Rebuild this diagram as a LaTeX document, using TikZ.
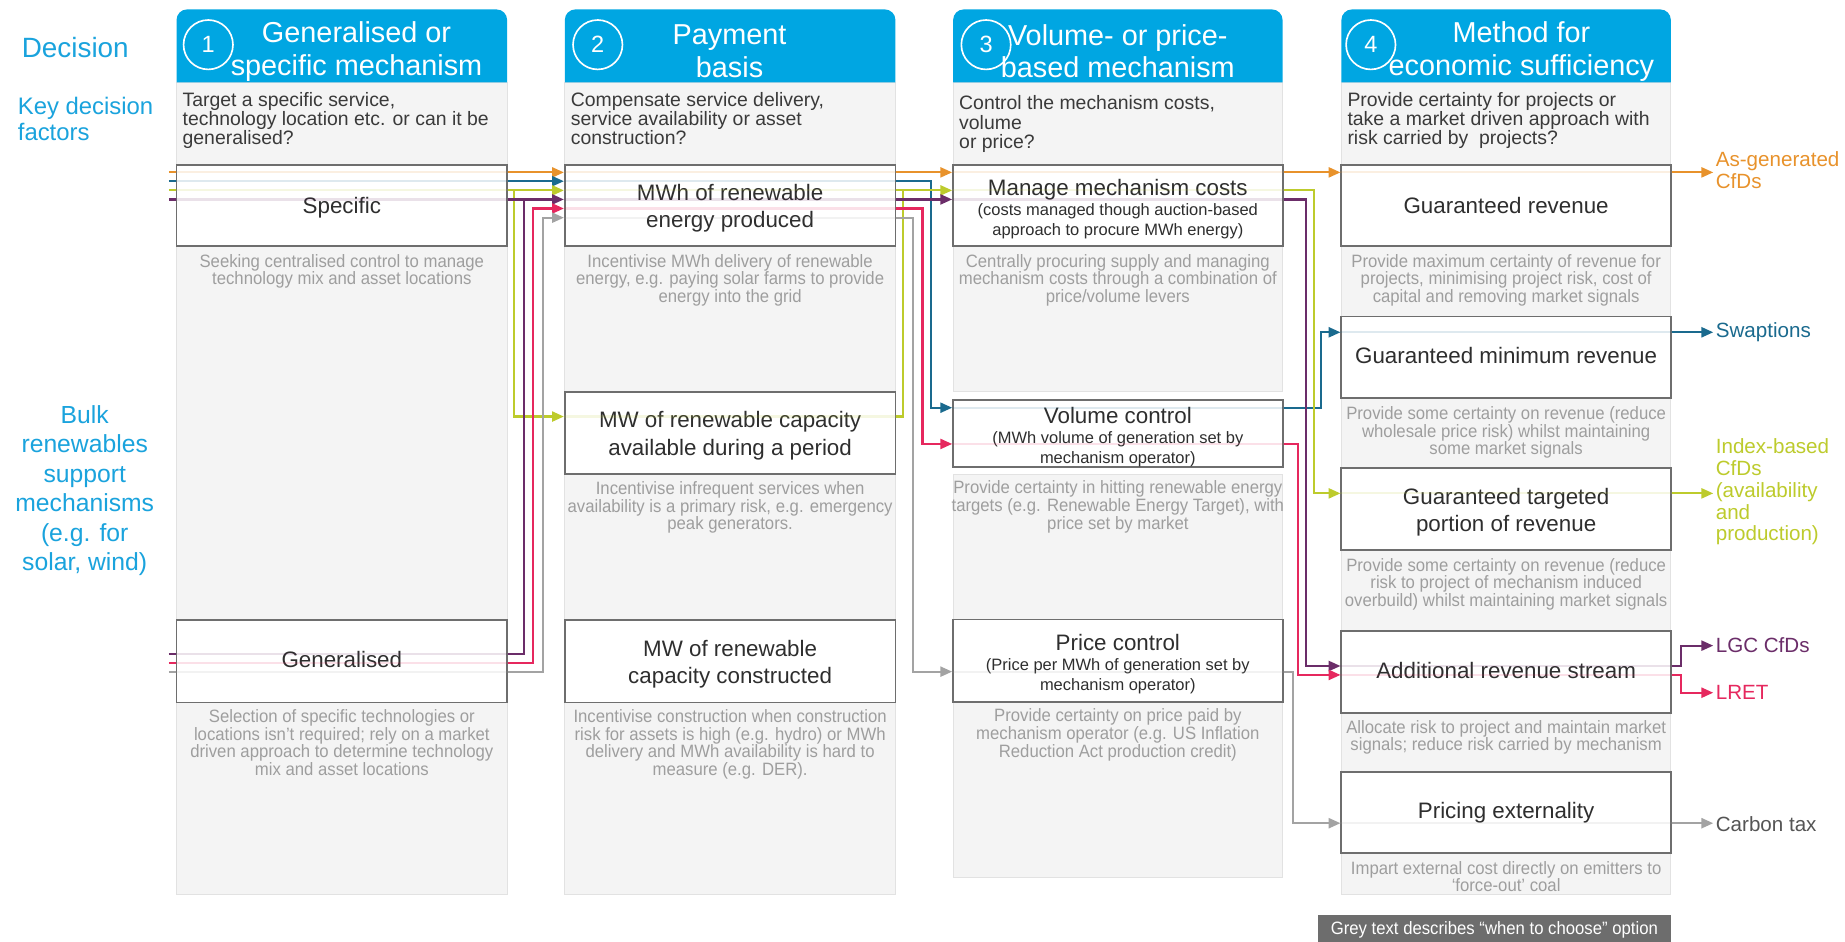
\documentclass[tikz,border=0pt]{standalone}
\usepackage{fontspec}
\setmainfont{Liberation Sans}
\newfontfamily\greyfont[FakeStretch=0.935]{Liberation Sans}
\usetikzlibrary{arrows.meta,positioning}

\definecolor{hdrblue}{HTML}{00A6E2}
\definecolor{lblblue}{HTML}{1AA3DD}
\definecolor{colbg}{HTML}{F4F4F4}
\definecolor{colline}{HTML}{E2E2E2}
\definecolor{boxline}{HTML}{6E6E6E}
\definecolor{textdark}{HTML}{2E2E2E}
\definecolor{qtext}{HTML}{3A3A3A}
\definecolor{greytext}{HTML}{9E9E9E}
\definecolor{legendgrey}{HTML}{6D6D6D}
\definecolor{cO}{HTML}{E8922B}
\definecolor{cB}{HTML}{1A6A8E}
\definecolor{cY}{HTML}{BDCB2C}
\definecolor{cP}{HTML}{6B2D69}
\definecolor{cK}{HTML}{E6285E}
\definecolor{cG}{HTML}{A3A3A3}
\definecolor{taxtext}{HTML}{555555}

\begin{document}
\begin{tikzpicture}[x=1pt,y=-1pt,
  colpanel/.style={fill=colbg, draw=colline, line width=0.7pt},
  hdrtext/.style={align=center, text=white, font=\fontsize{24.5}{28}\selectfont, inner sep=0pt},
  numcirc/.style={circle, draw=white, line width=1.4pt, minimum size=42pt, inner sep=0pt,
    text=white, font=\fontsize{20}{20}\selectfont},
  question/.style={align=left, text=qtext, font=\fontsize{16.5}{16.5}\selectfont, inner sep=0pt, anchor=north west},
  optbox/.style={draw=boxline, line width=1.6pt, fill=white, minimum width=280pt, minimum height=69pt, inner sep=0pt},
  boxtxt/.style={align=center, text=textdark, font=\fontsize{19}{23.5}\selectfont, inner sep=0pt, yshift=-2.5pt},
  boxone/.style={text=textdark, font=\fontsize{19}{23.5}\selectfont, inner sep=0pt, text height=15pt, text depth=4pt},
  boxsub/.style={boxtxt, font=\fontsize{14}{17}\selectfont, yshift=-0.5pt},
  desc/.style={align=center, text=greytext, font=\greyfont\fontsize{15.2}{15}\selectfont, inner sep=0pt, anchor=north},
  sidelbl/.style={text=lblblue, inner sep=0pt},
  outlbl/.style={align=left, inner sep=0pt, anchor=west, font=\fontsize{17.5}{18.8}\selectfont},
  conn/.style={line width=1.8pt},
  tip/.style={-{Triangle[length=10pt,width=8.5pt]}},
  faint/.style={line width=1.8pt, opacity=0.14}
]
\useasboundingbox (0,0) rectangle (1568,800);
\fill[white] (0,0) rectangle (1568,800);

% ---- column panels ----
\draw[colpanel] (150,70) rectangle (431,760);
\draw[colpanel] (480,70) rectangle (761,760);
\draw[colpanel] (810,70) rectangle (1090,333);
\draw[colpanel] (810,403) rectangle (1090,746);
\draw[colpanel] (1140,70) rectangle (1420,760);

% ---- headers ----
\fill[hdrblue] (150,70) {[rounded corners=9pt] -- (150,8) -- (431,8)} -- (431,70) -- cycle;
\fill[hdrblue] (480,70) {[rounded corners=9pt] -- (480,8) -- (761,8)} -- (761,70) -- cycle;
\fill[hdrblue] (810,70) {[rounded corners=9pt] -- (810,8) -- (1090,8)} -- (1090,70) -- cycle;
\fill[hdrblue] (1140,70) {[rounded corners=9pt] -- (1140,8) -- (1420,8)} -- (1420,70) -- cycle;

\node[numcirc] (n1) at (177,38) {1};
\node[numcirc] (n2) at (508,38) {2};
\node[numcirc] (n3) at (838,38) {3};
\node[numcirc] (n4) at (1165,38) {4};
\node[hdrtext] (h1) at (303,43.5) {Generalised or\\specific mechanism};
\node[hdrtext] (h2) at (620,43.5) {Payment\\basis};
\node[hdrtext] (h3) at (950,43.5) {Volume- or price-\\based mechanism};
\node[hdrtext] (h4) at (1293,43.5) {Method for\\economic sufficiency};

% ---- key decision factors ----
\node[question] (q1) at (155,78) {Target a specific service,\\technology location etc. or can it be\\generalised?};
\node[question] (q2) at (485,78) {Compensate service delivery,\\service availability or asset\\construction?};
\node[question] (q3) at (815,81) {Control the mechanism costs,\\volume\\or price?};
\node[question] (q4) at (1145,78) {Provide certainty for projects or\\take a market driven approach with\\risk carried by\ \ projects?};

% ---- side labels ----
\node[sidelbl, font=\fontsize{23.7}{26}\selectfont] (lblDec) at (64,40) {Decision};
\node[sidelbl, align=left, anchor=west, font=\fontsize{20.3}{22}\selectfont] (lblKey) at (15,101) {Key decision\\factors};
\node[sidelbl, align=center, font=\fontsize{21}{25}\selectfont] (lblBulk) at (72,417) {Bulk\\renewables\\support\\mechanisms\\(e.g. for\\solar, wind)};

% ---- option boxes ----
\node[optbox, minimum width=281pt, label={[boxone, yshift=-1.5pt]center:Specific}] (spec) at (290.5,174.5) {};
\node[optbox, minimum width=281pt, minimum height=70pt, label={[boxone]center:Generalised}] (gen) at (290.5,562) {};
\node[optbox, minimum width=281pt, label={[boxtxt]center:{MWh of renewable\\energy produced}}] (mwh) at (620.5,174.5) {};
\node[optbox, minimum width=281pt, minimum height=69.4pt,
  label={[boxtxt]center:{MW of renewable capacity\\available during a period}}] (mwa) at (620.5,368) {};
\node[optbox, minimum width=281pt, minimum height=70pt,
  label={[boxtxt]center:{MW of renewable\\capacity constructed}}] (mwc) at (620.5,562) {};
\node[optbox, label={[boxsub]center:{{\fontsize{19}{20}\selectfont Manage mechanism costs}\\(costs managed though auction-based\\approach to procure MWh energy)}}] (mng) at (950,174.5) {};
\node[optbox, minimum height=56.6pt, label={[boxsub]center:{{\fontsize{19}{20}\selectfont Volume control}\\(MWh volume of generation set by\\mechanism operator)}}] (vol) at (950,368.3) {};
\node[optbox, minimum height=70pt, label={[boxsub]center:{{\fontsize{19}{20}\selectfont Price control}\\(Price per MWh of generation set by\\mechanism operator)}}] (prc) at (950,561.5) {};
\node[optbox, label={[boxone, yshift=-1.5pt]center:Guaranteed revenue}] (grev) at (1280,174.5) {};
\node[optbox, label={[boxone]center:Guaranteed minimum revenue}] (gmin) at (1280,303.5) {};
\node[optbox, minimum height=69.4pt, label={[boxtxt]center:{Guaranteed targeted\\portion of revenue}}] (gtar) at (1280,432.7) {};
\node[optbox, minimum height=70pt, label={[boxone]center:Additional revenue stream}] (arev) at (1280,571) {};
\node[optbox, label={[boxone]center:Pricing externality}] (pext) at (1280,690.5) {};

% ---- when-to-choose notes ----
\node[desc, below=6pt of spec] (dspec) {Seeking centralised control to manage\\technology mix and asset locations};
\node[desc, below=5pt of gen] (dgen) {Selection of specific technologies or\\locations isn’t required; rely on a market\\driven approach to determine technology\\mix and asset locations};
\node[desc, below=6pt of mwh] (dmwh) {Incentivise MWh delivery of renewable\\energy, e.g. paying solar farms to provide\\energy into the grid};
\node[desc, below=5.5pt of mwa] (dmwa) {Incentivise infrequent services when\\availability is a primary risk, e.g. emergency\\peak generators.};
\node[desc, below=5pt of mwc] (dmwc) {Incentivise construction when construction\\risk for assets is high (e.g. hydro) or MWh\\delivery and MWh availability is hard to\\measure (e.g. DER).};
\node[desc, below=6pt of mng] (dmng) {Centrally procuring supply and managing\\mechanism costs through a combination of\\price/volume levers};
\node[desc, below=11pt of vol] (dvol) {Provide certainty in hitting renewable energy\\targets (e.g. Renewable Energy Target), with\\price set by market};
\node[desc, below=5pt of prc] (dprc) {Provide certainty on price paid by\\mechanism operator (e.g. US Inflation\\Reduction Act production credit)};
\node[desc, below=6pt of grev] (dgrev) {Provide maximum certainty of revenue for\\projects, minimising project risk, cost of\\capital and removing market signals};
\node[desc, below=6.5pt of gmin] (dgmin) {Provide some certainty on revenue (reduce\\wholesale price risk) whilst maintaining\\some market signals};
\node[desc, below=6pt of gtar] (dgtar) {Provide some certainty on revenue (reduce\\risk to project of mechanism induced\\overbuild) whilst maintaining market signals};
\node[desc, below=5pt of arev] (darev) {Allocate risk to project and maintain market\\signals; reduce risk carried by mechanism};
\node[desc, below=6pt of pext] (dpext) {Impart external cost directly on emitters to\\‘force-out’ coal};

% ---- legend ----
\node[fill=legendgrey, minimum width=300pt, minimum height=24pt, inner sep=0pt, text=white,
  font=\greyfont\fontsize{15.2}{15}\selectfont] (legend) at (1270,790) {Grey text describes “when to choose” option};

% ---- outcome labels ----
\node[outlbl, text=cO] (oO) at (1458,144.7) {As-generated\\CfDs};
\node[outlbl, text=cB] (oB) at (1458,282.5) {Swaptions};
\node[outlbl, text=cY, font=\fontsize{17.5}{18.6}\selectfont] (oY) at (1458,418) {Index-based\\CfDs\\(availability\\and\\production)};
\node[outlbl, text=cP] (oP) at (1458,548.5) {LGC CfDs};
\node[outlbl, text=cK] (oK) at (1458,588.5) {LRET};
\node[outlbl, text=taxtext] (oG) at (1458,700) {Carbon tax};

% ---- connector levels ----
\coordinate (lvO) at (0,146.5);
\coordinate (lvB) at (0,154);
\coordinate (lvY) at (0,161.8);
\coordinate (lvP) at (0,169.5);
\coordinate (lvK) at (0,177.2);
\coordinate (lvG) at (0,185);
\coordinate (lvGP) at (0,556);
\coordinate (lvGK) at (0,563.5);
\coordinate (lvGG) at (0,571);
\coordinate (lvA) at (0,354);
\coordinate (lvVB) at (0,346.5);
\coordinate (lvVK) at (0,377.3);
\coordinate (lvPG) at (0,570.8);
\coordinate (lvMB) at (0,282.4);
\coordinate (lvTY) at (0,419.3);
\coordinate (lvAP) at (0,566);
\coordinate (lvAK) at (0,573.6);
\coordinate (lvXG) at (0,699.6);
\coordinate (lvLGC) at (0,548.7);
\coordinate (lvLRET) at (0,588.7);
% vertical runs
\coordinate (gY1) at (436.8,0);
\coordinate (gP1) at (445.3,0);
\coordinate (gK1) at (453.2,0);
\coordinate (gG1) at (461.7,0);
\coordinate (gY2) at (767.7,0);
\coordinate (gG2) at (775.6,0);
\coordinate (gK2) at (784,0);
\coordinate (gB2) at (791.2,0);
\coordinate (gG3) at (1099,0);
\coordinate (gK3) at (1103.4,0);
\coordinate (gP3) at (1109.6,0);
\coordinate (gY3) at (1116.5,0);
\coordinate (gB3) at (1122.5,0);
\coordinate (gOut) at (1428.6,0);
% free ends
\coordinate (srcO) at (143.5,146.5);
\coordinate (srcB) at (143.5,154);
\coordinate (srcY) at (143.5,161.8);
\coordinate (srcP) at (143.5,169.5);
\coordinate (srcGP) at (143.5,556);
\coordinate (srcGK) at (143.5,563.5);
\coordinate (srcGG) at (143.5,571);
\coordinate (endO) at (1456,146.5);
\coordinate (endB) at (1456,282.4);
\coordinate (endY) at (1456,419.3);
\coordinate (endP) at (1456,548.7);
\coordinate (endK) at (1456,588.7);
\coordinate (endG) at (1456,699.6);

% ---- faint traces through the boxes ----
\foreach \b/\lv/\c in {spec/lvO/cO, spec/lvB/cB, spec/lvY/cY, spec/lvP/cP,
    gen/lvGP/cP, gen/lvGK/cK, gen/lvGG/cG,
    mwh/lvO/cO, mwh/lvB/cB, mwh/lvY/cY, mwh/lvP/cP, mwh/lvK/cK, mwh/lvG/cG,
    mwa/lvA/cY, mng/lvO/cO, mng/lvY/cY, mng/lvP/cP,
    vol/lvVB/cB, vol/lvVK/cK, prc/lvPG/cG,
    grev/lvO/cO, gmin/lvMB/cB, gtar/lvTY/cY, arev/lvAP/cP, arev/lvAK/cK, pext/lvXG/cG}
  \draw[faint, \c] (\b.west |- \lv) -- (\b.east |- \lv);

% ---- orange: as-generated CfDs ----
\draw[conn, cO] (srcO) -- (spec.west |- lvO);
\draw[conn, cO, tip] (spec.east |- lvO) -- (mwh.west |- lvO);
\draw[conn, cO, tip] (mwh.east |- lvO) -- (mng.west |- lvO);
\draw[conn, cO, tip] (mng.east |- lvO) -- (grev.west |- lvO);
\draw[conn, cO, tip] (grev.east |- lvO) -- (endO);

% ---- blue: swaptions ----
\draw[conn, cB] (srcB) -- (spec.west |- lvB);
\draw[conn, cB, tip] (spec.east |- lvB) -- (mwh.west |- lvB);
\draw[conn, cB, tip] (mwh.east |- lvB) -| (gB2 |- lvVB) -- (vol.west |- lvVB);
\draw[conn, cB, tip] (vol.east |- lvVB) -| (gB3 |- lvMB) -- (gmin.west |- lvMB);
\draw[conn, cB, tip] (gmin.east |- lvMB) -- (endB);

% ---- yellow-green: index-based CfDs ----
\draw[conn, cY] (srcY) -- (spec.west |- lvY);
\draw[conn, cY, tip] (spec.east |- lvY) -- (mwh.west |- lvY);
\draw[conn, cY, tip] (gY1 |- lvY) -- (gY1 |- lvA) -- (mwa.west |- lvA);
\draw[conn, cY, tip] (mwh.east |- lvY) -- (mng.west |- lvY);
\draw[conn, cY] (mwa.east |- lvA) -| (gY2 |- lvY);
\draw[conn, cY, tip] (mng.east |- lvY) -| (gY3 |- lvTY) -- (gtar.west |- lvTY);
\draw[conn, cY, tip] (gtar.east |- lvTY) -- (endY);

% ---- purple: LGC CfDs ----
\draw[conn, cP] (srcP) -- (spec.west |- lvP);
\draw[conn, cP, tip] (spec.east |- lvP) -- (mwh.west |- lvP);
\draw[conn, cP] (srcGP) -- (gen.west |- lvGP);
\draw[conn, cP] (gen.east |- lvGP) -| (gP1 |- lvP);
\draw[conn, cP, tip] (mwh.east |- lvP) -- (mng.west |- lvP);
\draw[conn, cP, tip] (mng.east |- lvP) -| (gP3 |- lvAP) -- (arev.west |- lvAP);
\draw[conn, cP, tip] (arev.east |- lvAP) -| (gOut |- lvLGC) -- (endP);

% ---- pink: LRET ----
\draw[conn, cK] (srcGK) -- (gen.west |- lvGK);
\draw[conn, cK, tip] (gen.east |- lvGK) -| (gK1 |- lvK) -- (mwh.west |- lvK);
\draw[conn, cK, tip] (mwh.east |- lvK) -| (gK2 |- lvVK) -- (vol.west |- lvVK);
\draw[conn, cK, tip] (vol.east |- lvVK) -| (gK3 |- lvAK) -- (arev.west |- lvAK);
\draw[conn, cK, tip] (arev.east |- lvAK) -| (gOut |- lvLRET) -- (endK);

% ---- grey: carbon tax ----
\draw[conn, cG] (srcGG) -- (gen.west |- lvGG);
\draw[conn, cG, tip] (gen.east |- lvGG) -| (gG1 |- lvG) -- (mwh.west |- lvG);
\draw[conn, cG, tip] (mwh.east |- lvG) -| (gG2 |- lvPG) -- (prc.west |- lvPG);
\draw[conn, cG, tip] (prc.east |- lvPG) -| (gG3 |- lvXG) -- (pext.west |- lvXG);
\draw[conn, cG, tip] (pext.east |- lvXG) -- (endG);
\end{tikzpicture}
\end{document}
